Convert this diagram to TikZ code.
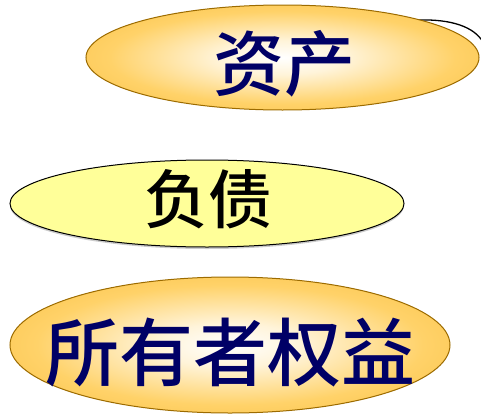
\documentclass[tikz,border=0pt]{standalone}
\usepackage{fontspec}
\newfontfamily\cjk{Noto Sans CJK SC Medium}
\usetikzlibrary{shapes.geometric,shadows}
\definecolor{navyt}{RGB}{0,0,102}
\definecolor{goldedge}{RGB}{156,107,0}
\definecolor{goldout}{RGB}{248,185,52}
\definecolor{goldmid}{RGB}{255,210,105}
\definecolor{paleyel}{RGB}{255,255,153}
\pgfdeclareradialshading{goldglow}{\pgfpoint{0bp}{0bp}}{%
  color(0bp)=(white); color(8bp)=(white!75!goldmid); color(22bp)=(goldmid);
  color(40bp)=(goldout); color(50bp)=(goldout)}
\tikzset{
  goldell/.style={ellipse, draw=goldedge, line width=1pt, shading=goldglow, inner sep=0pt},
  yelell/.style={ellipse, draw=black, line width=1pt, fill=paleyel, inner sep=0pt,
    drop shadow={shadow xshift=0pt, shadow yshift=-2pt, opacity=0.4}},
  lbl/.style={inner sep=0pt, font=\cjk}
}
\begin{document}
\begin{tikzpicture}[x=1pt,y=-1pt]
\useasboundingbox (0,0) rectangle (481,415);
\draw[line width=1.3pt] (418,20) .. controls (452,19) and (474,27) .. (483,42);
\node[goldell, minimum width=393pt, minimum height=105pt] (e1) at (282.5,57.5) {};
\node[yelell, minimum width=394pt, minimum height=87pt] (e2) at (207,203.5) {};
\node[goldell, minimum width=440pt, minimum height=136pt] (e3) at (230,345) {};
\node[lbl, text=navyt, font=\cjk\fontsize{71}{71}\selectfont] (t1) at (284,64) {资产};
\node[lbl, text=black, font=\cjk\fontsize{64}{64}\selectfont] (t2) at (208,199) {负债};
\node[lbl, text=navyt, font=\cjk\fontsize{74}{74}\selectfont] (t3) at (230,353) {所有者权益};
\end{tikzpicture}
\end{document}
